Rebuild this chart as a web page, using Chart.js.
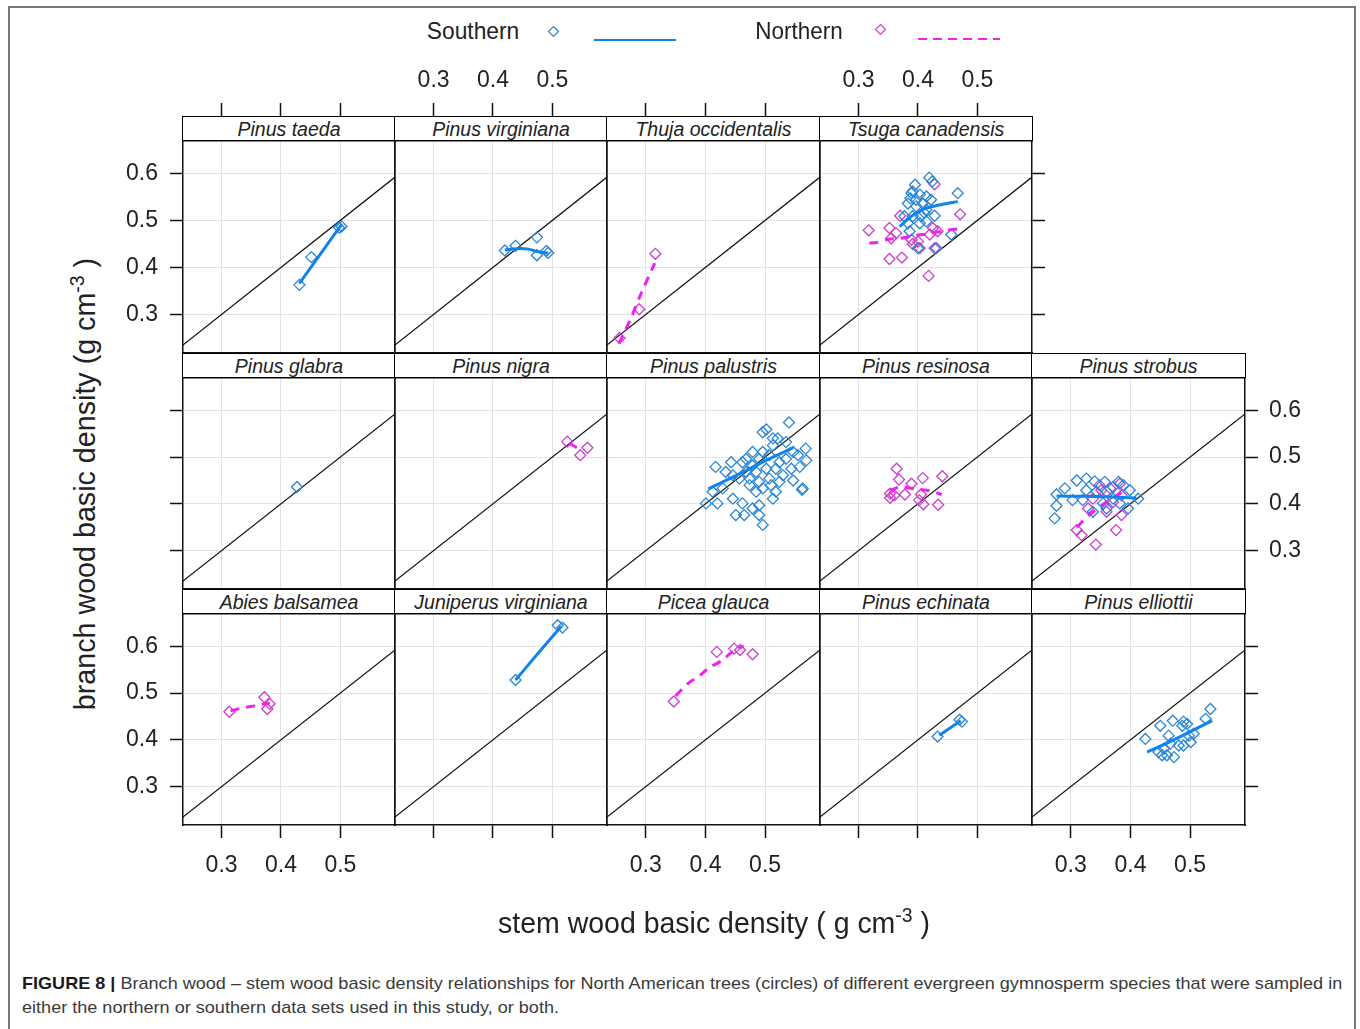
<!DOCTYPE html>
<html>
<head>
<meta charset="utf-8">
<script src="https://cdn.jsdelivr.net/npm/chart.js@4.4.1/dist/chart.umd.min.js"></script>
<style>
  body { margin: 0; background: #fff; font-family: 'Liberation Sans', Arial, sans-serif; color: #222; }
  #fig { position: relative; width: 1360px; height: 1029px; overflow: hidden; }
  #frame { position: absolute; left: 8px; top: 6px; width: 1348px; height: 1040px; border: 2px solid #777; box-sizing: border-box; }
  canvas.panel { position: absolute; z-index: 1; }
  .strip { position: absolute; height: 25px; box-sizing: border-box; border: 1.5px solid #000; background: #fff;
           font-style: italic; font-size: 19.5px; text-align: center; line-height: 24px; color: #222; z-index: 5; }
  .txt { position: absolute; white-space: nowrap; z-index: 6; }
  .txt span { display: inline-block; }
  sup { font-size: 0.68em; vertical-align: 0.55em; }
  .cap { position: absolute; left: 22px; font-size: 17px; color: #3a3a3a; white-space: nowrap; transform-origin: left center; }
</style>
</head>
<body>
<div id="fig">
  <div id="frame"></div>
</div>
<script>
// axes
const xTicks = [0.3, 0.4, 0.5];
const yTicks = [0.3, 0.4, 0.5, 0.6];
const X_MIN = 0.235, X_MAX = 0.592;
const Y_MIN = 0.218, Y_MAX = 0.669;
const oneToOne = [[0.2, 0.2], [0.7, 0.7]];

// data: [stem, branch]
const taedaS = [[0.431,0.363],[0.451,0.422],[0.502,0.487],[0.498,0.485]];
const taedaSFit = [[0.431,0.366],[0.466,0.428],[0.502,0.491]];

const virginianaS = [[0.420,0.436],[0.438,0.446],[0.474,0.464],[0.474,0.426],[0.490,0.435],[0.493,0.431]];
const virginianaSFit = [[0.420,0.437],[0.440,0.440],[0.460,0.439],[0.474,0.434],[0.493,0.430]];

const thujaN = [[0.316,0.429],[0.289,0.311],[0.256,0.250]];
const thujaNFit = [[0.255,0.238],[0.275,0.292],[0.292,0.344],[0.315,0.409]];

const tsugaS = [[0.419,0.591],[0.424,0.583],[0.395,0.576],[0.391,0.562],[0.467,0.558],[0.403,0.555],[0.387,0.547],
  [0.422,0.544],[0.408,0.536],[0.383,0.536],[0.397,0.530],[0.414,0.523],[0.428,0.510],[0.377,0.509],[0.391,0.509],
  [0.405,0.509],[0.383,0.494],[0.403,0.494],[0.414,0.498],[0.456,0.470],[0.400,0.441],[0.431,0.441],[0.386,0.477],
  [0.389,0.558],[0.397,0.544],[0.414,0.551],[0.411,0.516]];
const tsugaSFit = [[0.369,0.487],[0.390,0.510],[0.414,0.526],[0.440,0.534],[0.467,0.540]];
const tsugaN = [[0.317,0.479],[0.352,0.484],[0.355,0.462],[0.352,0.418],[0.373,0.421],[0.389,0.459],[0.391,0.450],
  [0.403,0.441],[0.418,0.382],[0.428,0.441],[0.425,0.484],[0.433,0.477],[0.471,0.513],[0.428,0.577],[0.370,0.510],
  [0.363,0.473],[0.400,0.455],[0.420,0.470]];
const tsugaNFit = [[0.318,0.452],[0.330,0.453],[0.350,0.460],[0.370,0.462],[0.395,0.468],[0.420,0.472],[0.450,0.479],[0.467,0.482]];

const glabraS = [[0.427,0.436]];

const nigraN = [[0.525,0.533],[0.559,0.520],[0.547,0.504]];
const nigraNFit = [[0.528,0.530],[0.545,0.517]];

const palustrisS = [[0.540,0.574],[0.502,0.559],[0.521,0.540],[0.568,0.518],[0.569,0.493],[0.547,0.511],[0.417,0.479],
  [0.443,0.489],[0.468,0.496],[0.496,0.511],[0.513,0.525],[0.544,0.475],[0.558,0.479],[0.547,0.450],[0.563,0.433],
  [0.401,0.401],[0.420,0.401],[0.446,0.411],[0.462,0.401],[0.479,0.390],[0.451,0.376],[0.465,0.376],[0.490,0.397],
  [0.496,0.355],[0.490,0.376],[0.513,0.411],[0.510,0.440],[0.474,0.440],[0.457,0.454],[0.429,0.433],[0.524,0.489],
  [0.485,0.468],[0.502,0.475],[0.468,0.468],[0.446,0.461],[0.535,0.496],[0.524,0.447],[0.530,0.461],[0.518,0.426],
  [0.485,0.426],[0.496,0.433],[0.479,0.482],[0.490,0.496],[0.507,0.504],[0.496,0.553],[0.513,0.540],[0.479,0.511],
  [0.462,0.489],[0.434,0.468],[0.412,0.426],[0.535,0.532],[0.555,0.504],[0.518,0.475],[0.507,0.454],[0.490,0.447],
  [0.474,0.454],[0.562,0.430]];
const palustrisSFit = [[0.405,0.432],[0.450,0.460],[0.500,0.492],[0.547,0.520]];

const resinosaN = [[0.364,0.475],[0.368,0.452],[0.389,0.443],[0.408,0.455],[0.441,0.459],[0.378,0.420],[0.353,0.422],
  [0.353,0.413],[0.402,0.408],[0.409,0.399],[0.434,0.398],[0.360,0.418],[0.405,0.420]];
const resinosaNFit = [[0.352,0.428],[0.370,0.436],[0.400,0.431],[0.420,0.428],[0.440,0.420]];

const strobusS = [[0.273,0.369],[0.276,0.396],[0.276,0.420],[0.290,0.433],[0.310,0.450],[0.326,0.454],[0.340,0.448],
  [0.357,0.447],[0.371,0.436],[0.380,0.447],[0.399,0.429],[0.413,0.411],[0.396,0.390],[0.343,0.426],[0.360,0.426],
  [0.354,0.401],[0.303,0.408],[0.320,0.408],[0.371,0.411],[0.382,0.401],[0.360,0.390],[0.337,0.383],[0.388,0.440],
  [0.326,0.429]];
const strobusSFit = [[0.276,0.417],[0.320,0.416],[0.360,0.415],[0.400,0.413],[0.410,0.412]];
const strobusN = [[0.310,0.344],[0.318,0.333],[0.342,0.313],[0.376,0.344],[0.329,0.390],[0.351,0.429],[0.366,0.433],
  [0.382,0.443],[0.385,0.418],[0.371,0.404],[0.360,0.383],[0.385,0.376],[0.337,0.411],[0.348,0.440]];
const strobusNFit = [[0.310,0.350],[0.330,0.375],[0.355,0.400],[0.380,0.420],[0.390,0.430]];

const abiesN = [[0.313,0.460],[0.372,0.491],[0.381,0.477],[0.377,0.466]];
const abiesNFit = [[0.315,0.462],[0.338,0.469],[0.358,0.473],[0.381,0.479]];

const juniperusS = [[0.438,0.528],[0.509,0.645],[0.517,0.640]];
const juniperusSFit = [[0.438,0.528],[0.476,0.585],[0.515,0.643]];

const piceaN = [[0.347,0.482],[0.419,0.588],[0.448,0.595],[0.479,0.583],[0.458,0.592]];
const piceaNFit = [[0.350,0.494],[0.372,0.522],[0.390,0.537],[0.407,0.555],[0.427,0.569],[0.444,0.587],[0.464,0.601]];

const echinataS = [[0.433,0.407],[0.470,0.443],[0.474,0.439]];
const echinataSFit = [[0.436,0.410],[0.472,0.441]];

const elliottiiS = [[0.425,0.402],[0.450,0.430],[0.471,0.441],[0.489,0.439],[0.464,0.409],[0.487,0.430],[0.495,0.434],
  [0.498,0.409],[0.506,0.413],[0.526,0.445],[0.534,0.466],[0.489,0.388],[0.501,0.395],[0.447,0.374],[0.456,0.381],
  [0.461,0.367],[0.473,0.363],[0.453,0.367],[0.481,0.388],[0.467,0.392]];
const elliottiiSFit = [[0.428,0.374],[0.453,0.388],[0.487,0.409],[0.537,0.441]];

const panels = [
  {name: 'Pinus taeda', row: 0, col: 0, s: taedaS, sFit: taedaSFit},
  {name: 'Pinus virginiana', row: 0, col: 1, s: virginianaS, sFit: virginianaSFit},
  {name: 'Thuja occidentalis', row: 0, col: 2, n: thujaN, nFit: thujaNFit},
  {name: 'Tsuga canadensis', row: 0, col: 3, s: tsugaS, sFit: tsugaSFit, n: tsugaN, nFit: tsugaNFit},
  {name: 'Pinus glabra', row: 1, col: 0, s: glabraS},
  {name: 'Pinus nigra', row: 1, col: 1, n: nigraN, nFit: nigraNFit},
  {name: 'Pinus palustris', row: 1, col: 2, s: palustrisS, sFit: palustrisSFit},
  {name: 'Pinus resinosa', row: 1, col: 3, n: resinosaN, nFit: resinosaNFit},
  {name: 'Pinus strobus', row: 1, col: 4, s: strobusS, sFit: strobusSFit, n: strobusN, nFit: strobusNFit},
  {name: 'Abies balsamea', row: 2, col: 0, n: abiesN, nFit: abiesNFit},
  {name: 'Juniperus virginiana', row: 2, col: 1, s: juniperusS, sFit: juniperusSFit},
  {name: 'Picea glauca', row: 2, col: 2, n: piceaN, nFit: piceaNFit},
  {name: 'Pinus echinata', row: 2, col: 3, s: echinataS, sFit: echinataSFit},
  {name: 'Pinus elliottii', row: 2, col: 4, s: elliottiiS, sFit: elliottiiSFit},
];

// layout
const colEdges = [183, 395, 607, 820, 1032, 1245];
const plotTops = [141, 378, 614];
const plotBottoms = [353, 589, 825];
const M = 80;
const INK = '#111';
const GRID = '#e2e2e2';
const BLUE = '#1283ec', BLUE_PT = '#2a86d4';
const MAG = '#f020f0', MAG_PT = '#cc40cc';
const tickFont = {family: "'Liberation Sans', Arial, sans-serif", size: 23};

const fig = document.getElementById('fig');
const xy = arr => arr.map(d => ({x: d[0], y: d[1]}));

function pointSet(data, col) {
  return {data: xy(data), showLine: false, pointStyle: 'rectRot', pointRadius: 5.5,
          borderColor: col, backgroundColor: 'rgba(0,0,0,0)', borderWidth: 1.3, order: 2};
}
function fitSet(data, col, dashed) {
  return {data: xy(data), showLine: true, pointRadius: 0, borderColor: col, borderWidth: 3,
          borderDash: dashed ? [9, 7] : [], tension: 0.3, order: 1};
}

function makePanel(p) {
  const left = colEdges[p.col], w = colEdges[p.col + 1] - left;
  const top = plotTops[p.row], h = plotBottoms[p.row] - top;
  const isTop = p.row === 0, isBottom = p.row === 2, isLeft = p.col === 0;
  const isRight = p.col === 4 || (p.row === 0 && p.col === 3);

  const cv = document.createElement('canvas');
  cv.className = 'panel';
  cv.width = w + 2 * M; cv.height = h + 2 * M;
  cv.style.left = (left - M) + 'px'; cv.style.top = (top - M) + 'px';
  fig.appendChild(cv);

  const strip = document.createElement('div');
  strip.className = 'strip';
  strip.textContent = p.name;
  strip.style.left = (left - 0.75) + 'px';
  strip.style.width = (w + 1.5) + 'px';
  strip.style.top = (top - 25) + 'px';
  fig.appendChild(strip);

  const datasets = [{data: xy(oneToOne), showLine: true, pointRadius: 0, borderColor: INK, borderWidth: 1.3, order: 9}];
  if (p.s) datasets.push(pointSet(p.s, BLUE_PT));
  if (p.sFit) datasets.push(fitSet(p.sFit, BLUE, false));
  if (p.n) datasets.push(pointSet(p.n, MAG_PT));
  if (p.nFit) datasets.push(fitSet(p.nFit, MAG, true));

  const fmt = v => v.toFixed(1);
  const xt = s => { s.ticks = xTicks.map(v => ({value: v})); };
  const yt = s => { s.ticks = yTicks.map(v => ({value: v})); };
  const tickGrid = (on, len, inner) => ({color: GRID, lineWidth: 1, drawOnChartArea: inner, drawTicks: on,
                                          tickLength: len, tickColor: INK, tickWidth: 1.5});
  const lbl = (show, pad) => ({display: show, padding: pad, font: tickFont, color: '#222', maxRotation: 0,
                               autoSkip: false, callback: fmt});
  const border = {display: true, color: INK, width: 1.5};

  new Chart(cv, {
    type: 'scatter',
    data: {datasets},
    options: {
      responsive: false, animation: false, events: [],
      layout: {padding: 0},
      plugins: {legend: {display: false}, tooltip: {enabled: false}},
      scales: {
        x: {type: 'linear', display: true, position: 'bottom', min: X_MIN, max: X_MAX,
            afterBuildTicks: xt, afterFit: s => { s.height = M; },
            grid: tickGrid(isBottom, 13, true), border, ticks: lbl(isBottom && p.col % 2 === 0, 14)},
        x2: {type: 'linear', display: true, position: 'top', min: X_MIN, max: X_MAX,
             afterBuildTicks: xt, afterFit: s => { s.height = M; },
             grid: tickGrid(isTop, 38, false), border, ticks: lbl(isTop && p.col % 2 === 1, 9)},
        y: {type: 'linear', display: true, position: 'left', min: Y_MIN, max: Y_MAX,
            afterBuildTicks: yt, afterFit: s => { s.width = M; },
            grid: tickGrid(isLeft, 13, true), border, ticks: lbl(isLeft && p.row !== 1, 12)},
        y2: {type: 'linear', display: true, position: 'right', min: Y_MIN, max: Y_MAX,
             afterBuildTicks: yt, afterFit: s => { s.width = M; },
             grid: tickGrid(isRight, 13, false), border, ticks: lbl(isRight && p.row === 1, 11)}
      }
    }
  });
}

panels.forEach(makePanel);

// free text: legend, axis titles, caption
function addText(html, cx, cy, size, width, rot) {
  const d = document.createElement('div');
  d.className = 'txt';
  d.style.fontSize = size + 'px';
  d.innerHTML = '<span>' + html + '</span>';
  fig.appendChild(d);
  const k = width / d.firstChild.offsetWidth;
  d.style.left = cx + 'px'; d.style.top = cy + 'px';
  d.style.transform = 'translate(-50%,-50%)' + (rot ? ' rotate(' + rot + 'deg)' : '') + ' scaleX(' + k + ')';
  return d;
}
function addSvg(x, y, w, h, inner) {
  const d = document.createElement('div');
  d.className = 'txt';
  d.style.left = x + 'px'; d.style.top = y + 'px';
  d.innerHTML = '<svg width="' + w + '" height="' + h + '">' + inner + '</svg>';
  fig.appendChild(d);
}

addText('Southern', 473, 31, 24, 92);
addSvg(547, 24, 13, 13, '<polygon points="6.5,1.5 11.5,6.5 6.5,11.5 1.5,6.5" fill="none" stroke="' + BLUE_PT + '" stroke-width="1.2"/>');
addSvg(594, 28, 84, 4, '<line x1="0" y1="2" x2="82" y2="2" stroke="' + BLUE + '" stroke-width="2"/>');
addText('Northern', 799, 31, 24, 87);
addSvg(874, 22, 13, 13, '<polygon points="6.5,1.5 11.5,6.5 6.5,11.5 1.5,6.5" fill="none" stroke="' + MAG_PT + '" stroke-width="1.2"/>');
addSvg(918, 27, 84, 4, '<line x1="0" y1="2" x2="82" y2="2" stroke="' + MAG + '" stroke-width="2" stroke-dasharray="9,6"/>');

addText('stem wood basic density ( g cm<sup>-3</sup> )', 714, 922, 30, 432);
addText('branch wood basic density (g cm<sup>-3</sup> )', 84, 484, 30, 452, -90);

const cap1 = document.createElement('div');
cap1.className = 'cap';
cap1.style.top = '974px';
cap1.innerHTML = '<b style="color:#1a1a1a">FIGURE 8 |</b> Branch wood – stem wood basic density relationships for North American trees (circles) of different evergreen gymnosperm species that were sampled in';
fig.appendChild(cap1);
const cap2 = document.createElement('div');
cap2.className = 'cap';
cap2.style.top = '998px';
cap2.textContent = 'either the northern or southern data sets used in this study, or both.';
fig.appendChild(cap2);
const kc = 1320 / cap1.offsetWidth;
cap1.style.transform = 'scaleX(' + kc + ')';
cap2.style.transform = 'scaleX(' + kc + ')';
</script>
</body>
</html>
